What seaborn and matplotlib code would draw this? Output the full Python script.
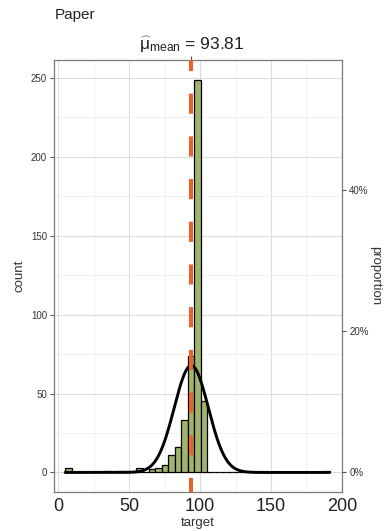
import numpy as np
import pandas as pd
import matplotlib
matplotlib.use("Agg")
import matplotlib.pyplot as plt
from matplotlib.ticker import FuncFormatter, MultipleLocator
import seaborn as sns

# ---- data ----
target_values = [7.1, 34.4, 43.5, 48.1, 57.2, 66.3, 70.8, 75.4, 79.9, 84.5,
                 89.0, 93.6, 98.1, 102.7, 189.1]
target_counts = [3, 1, 1, 1, 3, 2, 3, 5, 11, 16, 33, 74, 249, 45, 1]
bin_width = 4.55
bin_start = 4.85
bin_stop = 191.4
mean_value = 93.81
sd_value = 12.0
x_ticks = [0, 50, 100, 150, 200]
y_ticks = [0, 50, 100, 150, 200, 250]
prop_ticks = [0.0, 0.2, 0.4]

df = pd.DataFrame({"target": target_values, "n": target_counts})
n_total = sum(target_counts)

sns.set_style("white")
plt.rcParams["font.family"] = ["Liberation Sans", "DejaVu Sans"]
plt.rcParams["mathtext.fontset"] = "custom"
plt.rcParams["mathtext.rm"] = "Liberation Sans"
plt.rcParams["mathtext.it"] = "Liberation Sans:italic"

fig = plt.figure(figsize=(3.87, 5.31), dpi=100)
ax = fig.add_axes([54 / 387, 1 - 492 / 531, (342.3 - 54) / 387, (492 - 60) / 531])

sns.histplot(data=df, x="target", weights="n", binwidth=bin_width,
             binrange=(bin_start, bin_stop), ax=ax,
             color="#A0B46E", edgecolor="black", linewidth=0.9, alpha=1.0,
             zorder=3)

# normal curve
xs = np.linspace(bin_start, bin_stop, 400)
ys = n_total * bin_width * np.exp(-0.5 * ((xs - mean_value) / sd_value) ** 2) / (sd_value * np.sqrt(2 * np.pi))
sns.lineplot(x=xs, y=ys, ax=ax, color="black", linewidth=2.1, zorder=4)

# mean line
ax.axvline(mean_value, color="#E8622A", linewidth=2.9, linestyle=(1.5, (5.0, 5.6)), zorder=5)

ax.set_xlim(-3, 200.3)
ax.set_ylim(-12.4, 261.4)
ax.set_xticks(x_ticks)
ax.set_yticks(y_ticks)
ax.xaxis.set_minor_locator(MultipleLocator(25))
ax.yaxis.set_minor_locator(MultipleLocator(25))
ax.grid(which="major", color="#DCDCDC", linewidth=0.8, zorder=0)
ax.grid(which="minor", color="#EFEFEF", linewidth=0.6, zorder=0)
ax.set_axisbelow(True)
for s in ax.spines.values():
    s.set_color("#7A7A7A")
    s.set_linewidth(0.9)

ax.tick_params(axis="x", which="major", labelsize=13, length=3, color="#555555",
               labelcolor="#222222", pad=1.5)
ax.tick_params(axis="y", which="major", labelsize=7, length=3, color="#555555",
               labelcolor="#333333", pad=2)
ax.tick_params(which="minor", length=0)
ax.set_xlabel("target", fontsize=9.5, color="#333333", labelpad=1.5)
ax.set_ylabel("count", fontsize=9.5, color="#333333", labelpad=4)

# secondary proportion axis
ax2 = ax.twinx()
ax2.set_ylim(-12.4 / n_total, 261.4 / n_total)
ax2.set_yticks(prop_ticks)
ax2.yaxis.set_major_formatter(FuncFormatter(lambda v, p: f"{v*100:.0f}%"))
ax2.tick_params(axis="y", labelsize=7, length=3, color="#555555", labelcolor="#333333", pad=2)
ax2.set_ylabel("proportion", fontsize=9.5, color="#333333", rotation=270, labelpad=9)
for s in ax2.spines.values():
    s.set_visible(False)

# top axis with centrality label
sec = ax.secondary_xaxis("top")
sec.set_xticks([mean_value])
sec.set_xticklabels([r"$\widehat{\mathrm{\mu}}_{\mathrm{mean}}$" + " = 93.81"])
sec.tick_params(axis="x", labelsize=12.5, length=3, color="#555555", labelcolor="#222222", pad=0.5)
sec.spines["top"].set_visible(False)

fig.text(55 / 387, 1 - 15 / 531, "Paper", fontsize=11, color="#222222", ha="left", va="center")

fig.savefig("out.png", dpi=100)
